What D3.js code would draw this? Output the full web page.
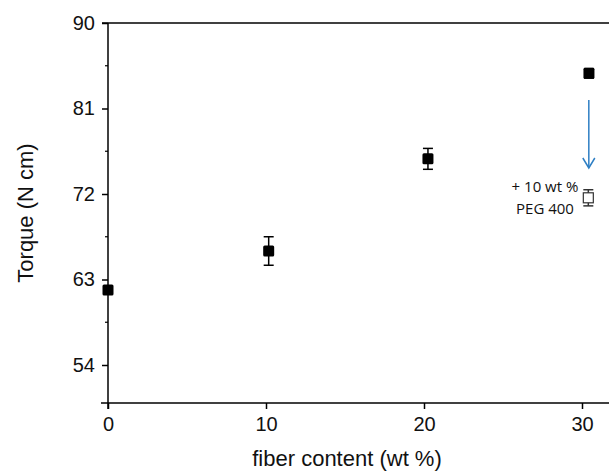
<!DOCTYPE html>
<html>
<head>
<meta charset="utf-8">
<script src="https://cdn.jsdelivr.net/npm/d3@7"></script>
<style>
  body { margin: 0; background: #fff; }
  svg { display: block; }
</style>
</head>
<body>
<div id="chart"></div>
<script>
const fiber = [0, 10.17, 20.25, 30.44];
const torque = [61.9, 66.0, 75.7, 84.7];
const torqueErr = [0.4, 1.5, 1.1, 0.5];
const pegFiber = [30.4];
const pegTorque = [71.6];
const pegErr = [0.85];
const xTicks = [0, 10, 20, 30];
const yTicks = [54, 63, 72, 81, 90];
const yMinor = [58.5, 67.5, 76.5, 85.5];

const w = 609, h = 472;
const svg = d3.select("#chart").append("svg").attr("width", w).attr("height", h);

const x = d3.scaleLinear().domain([0, 30]).range([108, 582]);
const y = d3.scaleLinear().domain([50, 90]).range([403, 23]);

const font = "'Liberation Sans', Arial, sans-serif";

// frame lines (top + bottom run past the right edge)
svg.append("line").attr("x1", 102).attr("x2", w + 10)
  .attr("y1", y(90)).attr("y2", y(90)).attr("stroke", "#000").attr("stroke-width", 1.5);
svg.append("line").attr("x1", 101).attr("x2", w + 10)
  .attr("y1", y(50)).attr("y2", y(50)).attr("stroke", "#000").attr("stroke-width", 1.5);

// y axis
const yAxis = svg.append("g").attr("transform", `translate(${x(0)},0)`)
  .call(d3.axisLeft(y).tickValues(yTicks).tickSize(6).tickPadding(7));
yAxis.select(".domain").remove();
yAxis.append("line").attr("y1", y(90)).attr("y2", y(50) + 6)
  .attr("stroke", "#000").attr("stroke-width", 1.5);
yAxis.selectAll(".tick line").attr("stroke-width", 1.5);
yAxis.selectAll(".tick text").attr("font-family", font).attr("font-size", 20).attr("fill", "#111");
yAxis.selectAll(".minor").data(yMinor).enter().append("line")
  .attr("x1", -3).attr("x2", 0).attr("y1", d => y(d)).attr("y2", d => y(d))
  .attr("stroke", "#000").attr("stroke-width", 1.2);

// x axis
const xAxis = svg.append("g").attr("transform", `translate(0,${y(50)})`)
  .call(d3.axisBottom(x).tickValues(xTicks).tickSize(6).tickPadding(8));
xAxis.select(".domain").remove();
xAxis.selectAll(".tick line").attr("stroke-width", 1.5);
xAxis.selectAll(".tick text").attr("font-family", font).attr("font-size", 20).attr("fill", "#111");

// axis titles
svg.append("text").attr("transform", `translate(33,${(y(90) + y(50)) / 2}) rotate(-90)`)
  .attr("text-anchor", "middle").attr("font-family", font).attr("font-size", 22)
  .attr("fill", "#111").text("Torque (N cm)");
svg.append("text").attr("x", 347).attr("y", 466)
  .attr("text-anchor", "middle").attr("font-family", font).attr("font-size", 22)
  .attr("fill", "#111").text("fiber content (wt %)");

// error bars
function errBars(xs, ys, es, color) {
  const g = svg.append("g").attr("stroke", color).attr("stroke-width", 1.5);
  xs.forEach((v, i) => {
    const cx = x(v), top = y(ys[i] + es[i]), bot = y(ys[i] - es[i]);
    g.append("line").attr("x1", cx).attr("x2", cx).attr("y1", top).attr("y2", bot);
    g.append("line").attr("x1", cx - 5).attr("x2", cx + 5).attr("y1", top).attr("y2", top);
    g.append("line").attr("x1", cx - 5).attr("x2", cx + 5).attr("y1", bot).attr("y2", bot);
  });
}
errBars(fiber, torque, torqueErr, "#000");
errBars(pegFiber, pegTorque, pegErr, "#333");

const s = 11;
svg.selectAll(".pt").data(fiber).enter().append("rect")
  .attr("x", d => x(d) - s / 2).attr("y", (d, i) => y(torque[i]) - s / 2)
  .attr("width", s).attr("height", s).attr("rx", 1.5).attr("fill", "#000");

svg.selectAll(".peg").data(pegFiber).enter().append("rect")
  .attr("x", d => x(d) - 5).attr("y", (d, i) => y(pegTorque[i]) - 5)
  .attr("width", 10).attr("height", 10).attr("fill", "#fff")
  .attr("stroke", "#333").attr("stroke-width", 1.2);

// arrow
const ax = x(pegFiber[0]) + 0.5;
const arrow = svg.append("g").attr("stroke", "#2e7fc4").attr("stroke-width", 1.5).attr("fill", "none");
arrow.append("line").attr("x1", ax).attr("x2", ax).attr("y1", 100).attr("y2", 168);
arrow.append("path").attr("d", `M${ax - 6},${158} L${ax},${168} L${ax + 6},${158}`);

// annotation
const noteFont = "'Open Sans', Lato, sans-serif";
svg.append("text").attr("x", 545).attr("y", 192).attr("text-anchor", "middle")
  .attr("font-family", noteFont).attr("font-size", 15).attr("fill", "#111").text("+ 10 wt %");
svg.append("text").attr("x", 545).attr("y", 214).attr("text-anchor", "middle")
  .attr("font-family", noteFont).attr("font-size", 15).attr("fill", "#111").text("PEG 400");
</script>
</body>
</html>
